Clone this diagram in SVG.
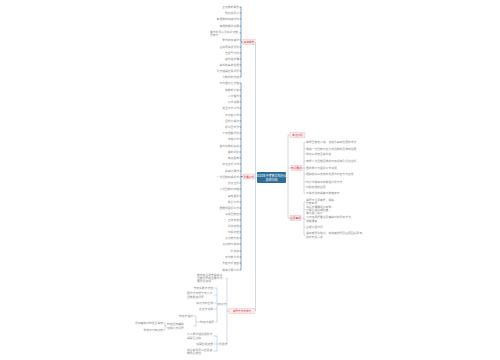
<svg xmlns="http://www.w3.org/2000/svg" width="500" height="360" viewBox="0 0 500 360">
<style>
text{font-family:"Noto Sans CJK SC","Liberation Sans",sans-serif;}
.t{font-size:2.8px;fill:#8c8c8c;}
.e{text-anchor:end;}
.nb{fill:#fdeeee;stroke:#eea9a9;stroke-width:.4;}
.nt{font-size:2.6px;fill:#c23b3b;text-anchor:middle;}
.dk{fill:none;stroke:#2f6790;stroke-width:.6;}
.lt{fill:none;stroke:#9db7cc;stroke-width:.5;}
</style>
<rect width="500" height="360" fill="#ffffff"/>
<g id="connectors">
<path class="lt" d="M257 177.5H255.5M255.5 42V311M286 177.5H288M288 135V218M288 135H290M288 168H291M288 218H290"/>
<path class="dk" d="M243 42H241M241 7V77M243 176.5H241M241 83V270"/>
<path class="dk" d="M239.5 7H241M239.5 13H241M239.5 19H241M239.5 26H241M239.5 33H241M239.5 40H241M239.5 47H241M239.5 53H241M239.5 59H241M239.5 65H241M239.5 71H241M239.5 77H241"/>
<path class="dk" d="M239.5 83H241M239.5 90H241M239.5 96H241M239.5 102H241M239.5 108H241M239.5 115H241M239.5 121H241M239.5 127H241M239.5 133H241M239.5 139H241M239.5 146H241M239.5 152H241M239.5 158H241M239.5 164H241M239.5 171H241M239.5 177H241M239.5 183H241M239.5 189H241M239.5 196H241M239.5 202H241M239.5 208H241M239.5 214H241M239.5 220H241M239.5 226H241M239.5 232H241M239.5 238H241M239.5 244H241M239.5 251H241M239.5 257H241M239.5 263H241M239.5 270H241"/>
<path class="lt" d="M229 311H227M227 278V344M226 278.5H227M226 304H227M226 344H227"/>
<path class="lt" d="M218 304H217M217 288V322M213.5 288H217M213.5 295H217M213.5 303H217M213.5 309H217M215.5 322H217"/>
<path class="lt" d="M200 322H196M196 316V326M193.5 316H196M193.5 326H196"/>
<path class="lt" d="M167 326H165M165 323V330M163.5 323H165M163.5 330H165"/>
<path class="lt" d="M219 344H217M217 336V351M213.5 336H217M213.5 344H217M213.5 351H217"/>
<path class="lt" d="M301 168H304M304 142V193M304 142H305.5M304 149H305.5M304 154H305.5M304 161H305.5M304 168H305.5M304 174H305.5M304 182H305.5M304 187H305.5M304 193H305.5"/>
<path class="lt" d="M301 218H304M304 202V235M304 202H305.5M304 209.5H305.5M304 219H305.5M304 227H305.5M304 235H305.5"/>
</g>
<g id="center">
<rect x="257" y="172" width="29" height="11" rx="1" fill="#2c6e97"/>
<text x="271.5" y="176.6" font-size="3" fill="#ffffff" text-anchor="middle">2020年中考数学知识点</text>
<text x="271.5" y="180.6" font-size="3" fill="#ffffff" text-anchor="middle">总结归纳</text>
</g>
<g id="branch1">
<rect class="nb" x="243" y="39.5" width="12" height="5"/>
<text class="nt" x="249" y="43">基础概念</text>
<text class="t e" x="239" y="8">正负数的概念</text>
<text class="t e" x="239" y="14">绝对值意义</text>
<text class="t e" x="239" y="20">有理数的加减法则</text>
<text class="t e" x="239" y="27">有理数乘除运算</text>
<text class="t" x="210" y="32.5">乘方的意义及科学记数</text>
<text class="t" x="210" y="36">法表示</text>
<text class="t e" x="239" y="41">整式的加减法</text>
<text class="t e" x="239" y="48">合并同类项法则</text>
<text class="t e" x="239" y="54">去括号法则</text>
<text class="t e" x="239" y="60">解方程步骤</text>
<text class="t e" x="239" y="66">等式的基本性质</text>
<text class="t e" x="239" y="72">列方程解应用问题</text>
<text class="t e" x="239" y="78">代数式的求值</text>
</g>
<g id="branch2">
<rect class="nb" x="243" y="174" width="11.5" height="5"/>
<text class="nt" x="248.75" y="177.5">重要公式</text>
<text class="t e" x="239" y="84">平方根与立方根</text>
<text class="t e" x="239" y="91">实数的分类</text>
<text class="t e" x="239" y="97">二次根式</text>
<text class="t e" x="239" y="103">分式运算</text>
<text class="t e" x="239" y="109">完全平方公式</text>
<text class="t e" x="239" y="116">平方差公式</text>
<text class="t e" x="239" y="122">因式分解法</text>
<text class="t e" x="239" y="128">提公因式法</text>
<text class="t e" x="239" y="134">十字相乘法则</text>
<text class="t e" x="239" y="140">求根公式</text>
<text class="t e" x="239" y="147">根与系数的关系</text>
<text class="t e" x="239" y="153">根的判别</text>
<text class="t e" x="239" y="159">两点距离</text>
<text class="t e" x="239" y="165">中点坐标公式</text>
<text class="t e" x="239" y="172">斜率计算式</text>
<text class="t e" x="239" y="178">一次函数的解析式</text>
<text class="t e" x="239" y="184">顶点坐标</text>
<text class="t e" x="239" y="190">二次函数对称轴</text>
<text class="t e" x="239" y="197">扇形面积</text>
<text class="t e" x="239" y="203">弧长公式</text>
<text class="t e" x="239" y="209">圆锥侧面积公式</text>
<text class="t e" x="239" y="215">三角函数值</text>
<text class="t e" x="239" y="221">正弦定理</text>
<text class="t e" x="239" y="227">余弦定理</text>
<text class="t e" x="239" y="233">勾股定理</text>
<text class="t e" x="239" y="239">多边形内角</text>
<text class="t e" x="239" y="245">多边形内角和</text>
<text class="t e" x="239" y="252">外角和</text>
<text class="t e" x="239" y="258">平均数公式</text>
<text class="t e" x="239" y="264">方差与标准差</text>
<text class="t e" x="239" y="271">概率计算公式</text>
</g>
<g id="branch3">
<rect class="nb" x="229" y="308.5" width="26" height="5"/>
<text class="nt" x="242" y="312">解题方法与技巧</text>
<text class="t" x="197" y="276">数形结合思想是解决</text>
<text class="t" x="197" y="279.2">函数问题的重要方法，</text>
<text class="t" x="197" y="282.4">要灵活运用</text>
<text class="t" x="218" y="305">转化法</text>
<text class="t e" x="213" y="289">待定系数法求值</text>
<text class="t" x="187" y="294">配方法常用于求二次</text>
<text class="t" x="187" y="297.5">函数最值问题</text>
<text class="t e" x="213" y="304">换元法的应用</text>
<text class="t e" x="213" y="310">反证法证明</text>
<text class="t" x="200" y="323">构造法解题</text>
<text class="t e" x="193" y="317">构造方程法</text>
<text class="t" x="167" y="325">构造图形辅助</text>
<text class="t" x="167" y="328.5">证明几何问题</text>
<text class="t e" x="163" y="324">添加辅助线构造全等形</text>
<text class="t e" x="163" y="331">构造平行四边形</text>
<text class="t" x="219" y="345">检验法</text>
<text class="t" x="187" y="335">代入原方程检验所求</text>
<text class="t" x="187" y="338.5">解是否正确</text>
<text class="t e" x="213" y="345">估算检验结果</text>
<text class="t" x="187" y="350.5">结合实际意义检验答</text>
<text class="t" x="187" y="354">案的合理性</text>
</g>
<g id="right1">
<rect class="nb" x="290" y="132.5" width="15" height="5"/>
<text class="nt" x="297.5" y="136">考点分析</text>
</g>
<g id="right2">
<rect class="nb" x="291" y="165.5" width="11" height="5"/>
<text class="nt" x="296.5" y="169">知识要点</text>
<text class="t" x="306" y="143">掌握函数定义域、值域及基本性质的求法</text>
<text class="t" x="306" y="150">理解一次函数与反比例函数的图像和性质</text>
<text class="t" x="306" y="155">熟记三角形全等判定</text>
<text class="t" x="306" y="162">掌握二次函数图像的平移规律及顶点坐标</text>
<text class="t" x="306" y="169">圆的周长与面积公式运用</text>
<text class="t" x="306" y="175">理解相似三角形的性质与判定方法应用</text>
<text class="t" x="306" y="183">统计与概率中的数据分析方法</text>
<text class="t" x="306" y="188">勾股定理的应用</text>
<text class="t" x="306" y="194">不等式组的解集与数轴表示</text>
</g>
<g id="right3">
<rect class="nb" x="290" y="215.5" width="11" height="5"/>
<text class="nt" x="295.5" y="219">注意事项</text>
<text class="t" x="306" y="201">解题时注意审题，明确</text>
<text class="t" x="306" y="204.3">已知条件</text>
<text class="t" x="306" y="207.5">书写步骤要规范完整，</text>
<text class="t" x="306" y="210.8">计算过程仔细检查，</text>
<text class="t" x="306" y="214">避免粗心失分</text>
<text class="t" x="306" y="218">几何证明题要注意辅助线的添加方法，</text>
<text class="t" x="306" y="221.5">逻辑清晰</text>
<text class="t" x="306" y="228">合理分配时间</text>
<text class="t" x="306" y="234">遇到难题先跳过，完成其他题目后再回头思考，</text>
<text class="t" x="306" y="237.5">保持良好心态</text>
</g>
</svg>
